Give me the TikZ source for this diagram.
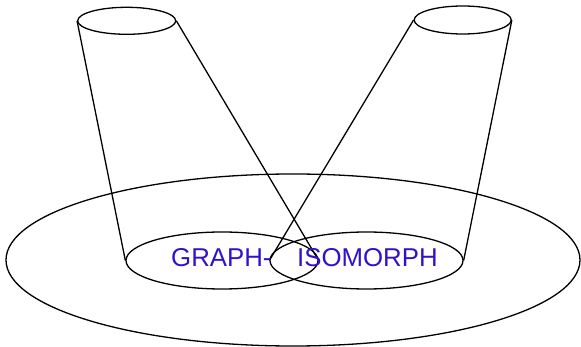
\documentclass[tikz,border=0pt]{standalone}
\usepackage{fontspec}
\setmainfont{Liberation Sans}
\usetikzlibrary{shapes.geometric}
\definecolor{txtblue}{RGB}{51,17,204}
\begin{document}
\begin{tikzpicture}[x=1pt,y=-1pt,
  ell/.style={draw,ellipse,inner sep=0pt,line width=1.3pt},
  cone/.style={line width=1.3pt},
  lbl/.style={text=txtblue,font=\fontsize{25.8}{28}\selectfont,inner sep=0pt,anchor=base west}]
\useasboundingbox (0,0) rectangle (581,347);
\node[ell,minimum width=574pt,minimum height=172pt] (big) at (293,260) {};
\node[ell,minimum width=192pt,minimum height=57pt] (lm) at (222,260.5) {};
\node[ell,minimum width=193pt,minimum height=57pt] (rm) at (366.5,260.5) {};
\node[ell,minimum width=98pt,minimum height=27pt] (ls) at (126.7,20.8) {};
\node[ell,minimum width=97pt,minimum height=28pt] (rs) at (462.7,20) {};
\draw[cone] (ls.west) -- (lm.west);
\draw[cone] (ls.east) -- (lm.east);
\draw[cone] (rs.west) -- (rm.west);
\draw[cone] (rs.east) -- (rm.east);
\node[lbl] (t1) at (171,267) {GRAPH-};
\node[lbl] (t2) at (297,267) {ISOMORPH};
\end{tikzpicture}
\end{document}
